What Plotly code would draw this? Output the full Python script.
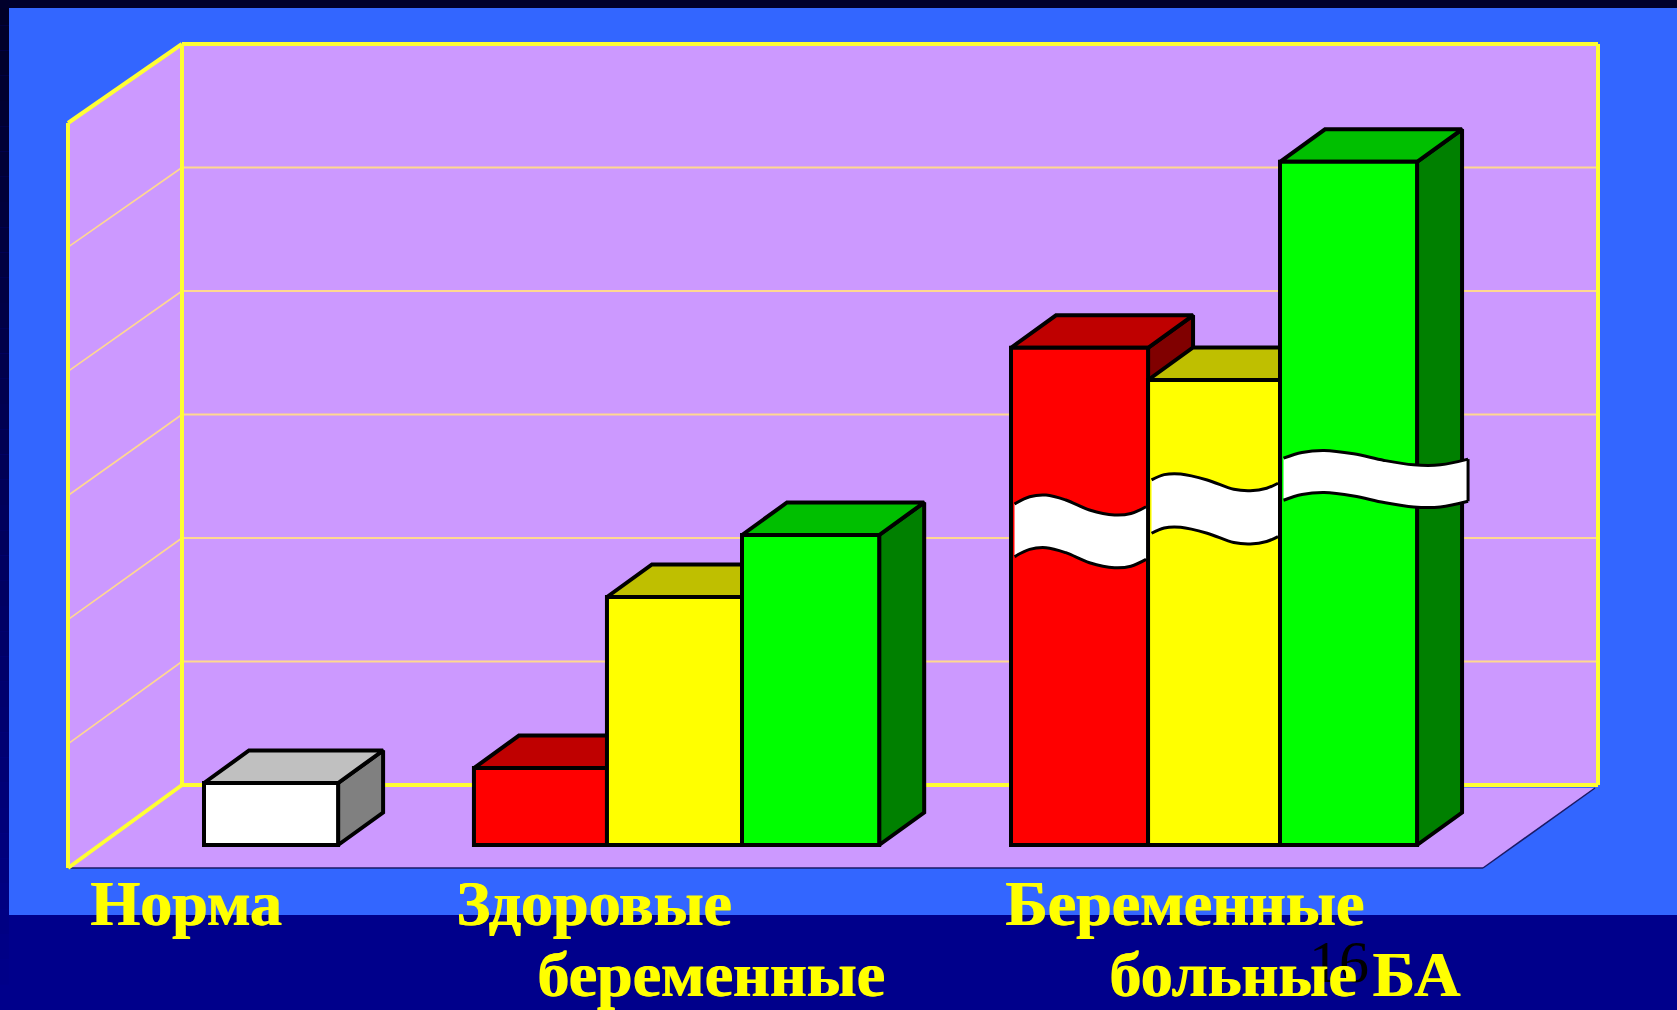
import plotly.graph_objects as go

# ---- chart values (height in grid steps of the value axis) ----
CATEGORIES = [["Норма"], ["Здоровые", "беременные"], ["Беременные", "больные БА"]]
NORM_VALUES = [0.5, None, None]
RED_VALUES = [None, 0.62, 4.01]
YELLOW_VALUES = [None, 2.0, 3.75]
GREEN_VALUES = [None, 2.5, 5.51]
GRID_TICKS = [1, 2, 3, 4, 5, 6]
PAGE_NUMBER = "16"

# ---- page and axis geometry ----
W, H = 1677, 1010
SLOT_PX, ORIGIN_X_PX = 134.5, 204.0     # one bar slot, left edge of slot 0
UNIT_PX, BASE_Y_PX = 124.0, 845.0       # one grid step, baseline of the bar fronts


def ux(px):
    return (px - ORIGIN_X_PX) / SLOT_PX


def uy(px):
    return (BASE_Y_PX - px) / UNIT_PX


X_RANGE = [ux(0), ux(W)]
Y_RANGE = [uy(H), uy(0)]

# bar edges in slot units, one list per category
GROUP_EDGES = [[0.0, 0.997], [2.007, 2.996, 4.0, 5.02], [6.0, 7.019, 8.0, 9.019]]
DEPTH_X, DEPTH_Y = 45 / SLOT_PX, 32.5 / UNIT_PX

# room: back wall and the front edge of the floor
BACK_L, BACK_R = ux(182), ux(1598)
BACK_Y0 = uy(785)
BACK_STEP = (785 - 44) / 6 / UNIT_PX
FRONT_L, FRONT_R, FRONT_Y = ux(68), ux(1483), uy(868)
FRONT_STEP = (868 - 123) / 6 / UNIT_PX

PURPLE, BLUE, NAVY = "#CC99FF", "#3366FF", "#00008B"
WALL_YELLOW, GRID_COLOR = "#FFFF33", "#FFD890"

# front, top and side shade of each series
NORM_SHADES = ("#FFFFFF", "#C0C0C0", "#808080")
RED_SHADES = ("#FF0000", "#BF0000", "#800000")
YELLOW_SHADES = ("#FFFF00", "#BFBF00", "#808000")
GREEN_SHADES = ("#00FF00", "#00BF00", "#008000")

# wavy axis-break ribbons on the tall category: position along the ribbon,
# offset of its upper edge from the start (px), level of the start, thickness
BREAK_T = [
    [0, 0.115, 0.24, 0.39, 0.57, 0.76, 0.885, 1],
    [0, 0.10, 0.23, 0.44, 0.65, 0.78, 0.91, 1],
    [0, 0.10, 0.22, 0.38, 0.545, 0.705, 0.85, 1],
]
BREAK_OFFSET = [
    [0, -7.3, -9, -4, 6, 11, 9.5, 2.7],
    [0, -5.3, -6, 0, 9.3, 10.7, 8.3, 3.3],
    [0, -5.7, -7.7, -4.3, 2.3, 6.7, 6.7, 1],
]
BREAK_LEVEL = [2.75, 2.944, 3.12]
BREAK_THICK = [0.425, 0.43, 0.34]

EDGE_WIDTH = 4

fig = go.Figure()


def face(xs, ys, color):
    fig.add_trace(go.Scatter(
        x=xs + xs[:1], y=ys + ys[:1], mode="lines", fill="toself", fillcolor=color,
        line=dict(color="black", width=EDGE_WIDTH), hoverinfo="skip", showlegend=False,
        xaxis="x", yaxis="y",
    ))


series_sets = [(NORM_VALUES, NORM_SHADES), (RED_VALUES, RED_SHADES),
               (YELLOW_VALUES, YELLOW_SHADES), (GREEN_VALUES, GREEN_SHADES)]

# top and side faces go on the lower axes, painted left to right
front_x, front_w, front_y, front_c = [], [], [], []
for g, edges in enumerate(GROUP_EDGES):
    present = [(vals[g], shades) for vals, shades in series_sets if vals[g] is not None]
    for i, (value, shades) in enumerate(present):
        x0, x1 = edges[i], edges[i + 1]
        face([x1, x1 + DEPTH_X, x1 + DEPTH_X, x1],
             [0, DEPTH_Y, value + DEPTH_Y, value], shades[2])
        face([x0, x0 + DEPTH_X, x1 + DEPTH_X, x1],
             [value, value + DEPTH_Y, value + DEPTH_Y, value], shades[1])
        front_x.append((x0 + x1) / 2)
        front_w.append(x1 - x0)
        front_y.append(value)
        front_c.append(shades[0])

# front faces sit on an overlaid copy of the axes so they hide the faces behind
fig.add_trace(go.Bar(
    x=front_x, y=front_y, width=front_w, base=0,
    marker=dict(color=front_c, line=dict(color="black", width=EDGE_WIDTH)),
    hoverinfo="skip", showlegend=False, xaxis="x2", yaxis="y2",
))

# axis-break ribbons over the three tall bars
tall_edges = GROUP_EDGES[2]
for i in range(3):
    x0 = tall_edges[i] + 3.5 / SLOT_PX
    x1 = tall_edges[i + 1] - 2 / SLOT_PX
    if i == 2:
        x1 = tall_edges[3] + 51 / SLOT_PX
    xs = [x0 + t * (x1 - x0) for t in BREAK_T[i]]
    top = [BREAK_LEVEL[i] - o / UNIT_PX for o in BREAK_OFFSET[i]]
    bottom = [v - BREAK_THICK[i] for v in top]
    line = dict(color="black", width=3, shape="spline", smoothing=1)
    fig.add_trace(go.Scatter(x=xs, y=bottom, mode="lines", line=line, hoverinfo="skip",
                             showlegend=False, xaxis="x2", yaxis="y2"))
    fig.add_trace(go.Scatter(x=xs, y=top, mode="lines", line=line, fill="tonexty",
                             fillcolor="white", hoverinfo="skip", showlegend=False,
                             xaxis="x2", yaxis="y2"))
    if i == 2:
        fig.add_trace(go.Scatter(x=[x1, x1], y=[bottom[-1], top[-1]], mode="lines",
                                 line=dict(color="black", width=3), hoverinfo="skip",
                                 showlegend=False, xaxis="x2", yaxis="y2"))

# ---- slide background: dark frame fading down to navy, then the blue panel ----
FRAME_TOP_RGB = (0, 0, 40)
FRAME_BOTTOM_RGB = (0, 0, 139)
FRAME_STEPS = 40
shapes = []
for k in range(FRAME_STEPS):
    f = k / (FRAME_STEPS - 1)
    r, g, b = (round(a + (c - a) * f) for a, c in zip(FRAME_TOP_RGB, FRAME_BOTTOM_RGB))
    shapes.append(dict(type="rect", xref="paper", yref="paper", x0=0, x1=9 / W,
                       y0=1 - (k + 1) / FRAME_STEPS, y1=1 - k / FRAME_STEPS,
                       fillcolor=f"rgb({r},{g},{b})", line_width=0, layer="below"))
shapes += [
    dict(type="rect", xref="paper", yref="paper", x0=0, x1=1, y0=1 - 8 / H, y1=1,
         fillcolor="#00002B", line_width=0, layer="below"),
    dict(type="rect", xref="paper", yref="paper", x0=9 / W, x1=1, y0=1 - 915 / H, y1=1 - 8 / H,
         fillcolor=BLUE, line_width=0, layer="below"),
]


def poly(xs, ys, **kw):
    path = "M " + " L ".join(f"{x},{y}" for x, y in zip(xs, ys)) + " Z"
    return dict(type="path", path=path, xref="x", yref="y", layer="below", **kw)


back_top = BACK_Y0 + GRID_TICKS[-1] * BACK_STEP
front_top = FRONT_Y + GRID_TICKS[-1] * FRONT_STEP
shapes += [
    poly([BACK_L, BACK_R, BACK_R, BACK_L], [BACK_Y0, BACK_Y0, back_top, back_top],
         fillcolor=PURPLE, line_width=0),
    poly([FRONT_L, BACK_L, BACK_L, FRONT_L], [FRONT_Y, BACK_Y0, back_top, front_top],
         fillcolor=PURPLE, line_width=0),
    poly([FRONT_L, FRONT_R, BACK_R - 3 / SLOT_PX, BACK_L],
         [FRONT_Y, FRONT_Y, BACK_Y0 - 3 / UNIT_PX, BACK_Y0], fillcolor=PURPLE, line_width=0),
]


def seg(x0, y0, x1, y1, color, width):
    return dict(type="line", xref="x", yref="y", x0=x0, y0=y0, x1=x1, y1=y1,
                line=dict(color=color, width=width), layer="below")


for tick in GRID_TICKS[:-1]:
    y = BACK_Y0 + tick * BACK_STEP
    shapes.append(seg(BACK_L, y, BACK_R, y, GRID_COLOR, 2))
    shapes.append(seg(BACK_L, y, FRONT_L, FRONT_Y + tick * FRONT_STEP, GRID_COLOR, 1.6))

shapes += [
    seg(FRONT_L, FRONT_Y, FRONT_R, FRONT_Y, "#1A1A66", 1.5),
    seg(FRONT_R, FRONT_Y, BACK_R - 3 / SLOT_PX, BACK_Y0 - 3 / UNIT_PX, "#1A1A66", 1.5),
    seg(BACK_L, BACK_Y0, BACK_R, BACK_Y0, WALL_YELLOW, 4),
    seg(BACK_L, back_top, BACK_R, back_top, WALL_YELLOW, 4),
    seg(BACK_L, BACK_Y0, BACK_L, back_top, WALL_YELLOW, 4),
    seg(BACK_R, BACK_Y0, BACK_R, back_top, WALL_YELLOW, 4),
    seg(FRONT_L, FRONT_Y, FRONT_L, front_top, WALL_YELLOW, 4),
    seg(FRONT_L, FRONT_Y, BACK_L, BACK_Y0, WALL_YELLOW, 4),
    seg(FRONT_L, front_top, BACK_L, back_top, WALL_YELLOW, 4),
]

# ---- slide texts: (left px, vertical centre px) ----
LABEL_SIZE = 64
label_pos = [[(88, 903), (0, 0)], [(454, 903), (535, 974)], [(1003, 903), (1107, 974)]]
annotations = [dict(text=PAGE_NUMBER, xref="paper", yref="paper", x=1307 / W, y=1 - 962 / H,
                    xanchor="left", yanchor="middle", showarrow=False,
                    font=dict(family="Liberation Serif", size=60, color="black"))]
for lines, places in zip(CATEGORIES, label_pos):
    for text, (px, py) in zip(lines, places):
        annotations.append(dict(
            text=f"<b>{text}</b>", xref="paper", yref="paper", x=px / W, y=1 - py / H,
            xanchor="left", yanchor="middle", showarrow=False,
            font=dict(family="Liberation Serif", size=LABEL_SIZE, color="#FFFF00",
                      shadow="1px 0 0 #FFFF00"),
        ))

hidden = dict(visible=False, fixedrange=True)
fig.update_layout(
    width=W, height=H, margin=dict(l=0, r=0, t=0, b=0),
    paper_bgcolor=NAVY, plot_bgcolor="rgba(0,0,0,0)",
    barmode="overlay", showlegend=False, shapes=shapes, annotations=annotations,
    xaxis=dict(range=X_RANGE, **hidden),
    yaxis=dict(range=Y_RANGE, **hidden),
    xaxis2=dict(range=X_RANGE, overlaying="x", **hidden),
    yaxis2=dict(range=Y_RANGE, overlaying="y", **hidden),
)

fig.write_html("out.html", config={"displayModeBar": False})
